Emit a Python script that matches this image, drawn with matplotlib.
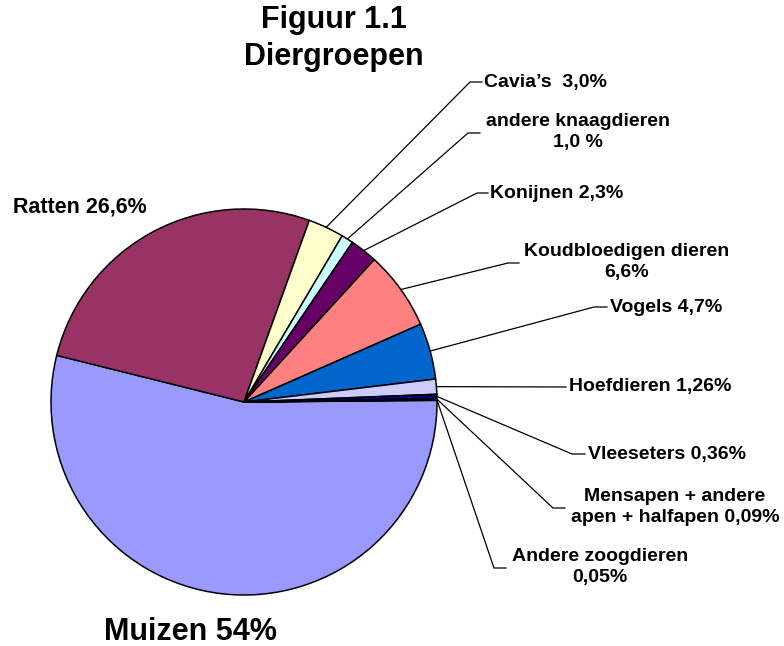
import matplotlib
matplotlib.use("Agg")
import matplotlib.pyplot as plt
import numpy as np

# data (clockwise from Muizen, as in the original sheet)
categories = ["Muizen", "Ratten", "Cavia's", "andere knaagdieren", "Konijnen",
              "Koudbloedigen dieren", "Vogels", "Hoefdieren", "Vleeseters",
              "Mensapen + andere apen + halfapen", "Andere zoogdieren"]
values = [54.0, 26.6, 3.0, 1.0, 2.3, 6.6, 4.7, 1.26, 0.36, 0.09, 0.05]
colors = ["#9999FF", "#993366", "#FFFFCC", "#CCFFFF", "#660066", "#FF8080",
          "#0066CC", "#CCCCFF", "#000080", "#FF00FF", "#FFFF00"]
label_texts = ["Muizen 54%", "Ratten 26,6%", "Cavia\u2019s  3,0%",
               "andere knaagdieren\n1,0 %", "Konijnen 2,3%",
               "Koudbloedigen dieren\n6,6%", "Vogels 4,7%", "Hoefdieren 1,26%",
               "Vleeseters 0,36%", "Mensapen + andere\napen + halfapen 0,09%",
               "Andere zoogdieren\n0,05%"]

W, H = 784, 646
FONT = "Liberation Sans"
CX, CY, R = 244, 402, 193   # pie centre / radius in pixels (y from top)


def py(y):
    # pixel y (top down) -> data y
    return H - y


fig = plt.figure(figsize=(W / 100, H / 100), dpi=100)
ax = fig.add_axes([0, 0, 1, 1])

wedges, _ = ax.pie(values, colors=colors, startangle=0.5, counterclock=False,
                   center=(CX, py(CY)), radius=R, frame=True,
                   wedgeprops=dict(edgecolor="black", linewidth=1.1))
ax.set_xlim(0, W)
ax.set_ylim(0, H)
ax.set_aspect("equal")
ax.axis("off")

# label layout: (text x, text y, ha, elbow start x, elbow end x, elbow y)
layout = {
    2: (484, 82, "left", 470, 482, 82),
    3: (578, 132, "center", 468, 480, 133),
    4: (490, 193, "left", 477, 488, 193),
    5: (627, 262, "center", 508, 519, 263),
    6: (610, 307, "left", 594, 607, 307),
    7: (569, 387, "left", None, 566, 387),
    8: (588, 454, "left", 572, 585, 454),
    9: (675, 507, "center", 553, 565, 508),
    10: (600, 567, "center", 494, 506, 568),
}

for i, (tx, ty, ha, ex0, ex1, ey) in layout.items():
    w = wedges[i]
    mid = np.deg2rad((w.theta1 + w.theta2) / 2)
    ax_x = CX + R * np.cos(mid)
    ax_y = py(CY) + R * np.sin(mid)
    if ex0 is None:
        ax.plot([ax_x, ex1], [ax_y, py(ey)], color="black", lw=0.9)
    else:
        ax.plot([ax_x, ex0, ex1], [ax_y, py(ey), py(ey)], color="black", lw=0.9)
    ax.text(tx, py(ty), label_texts[i], ha=ha, va="center", family=FONT,
            fontweight="bold", fontsize=14, linespacing=1.3)

ax.text(13, py(207), label_texts[1], ha="left", va="center", family=FONT,
        fontweight="bold", fontsize=15.5)
ax.text(190, py(632), label_texts[0], ha="center", va="center", family=FONT,
        fontweight="bold", fontsize=22)

ax.text(334, py(20), "Figuur 1.1", ha="center", va="center", family=FONT,
        fontweight="bold", fontsize=22)
ax.text(334, py(57), "Diergroepen", ha="center", va="center", family=FONT,
        fontweight="bold", fontsize=22)

fig.savefig("out.png", dpi=100)
